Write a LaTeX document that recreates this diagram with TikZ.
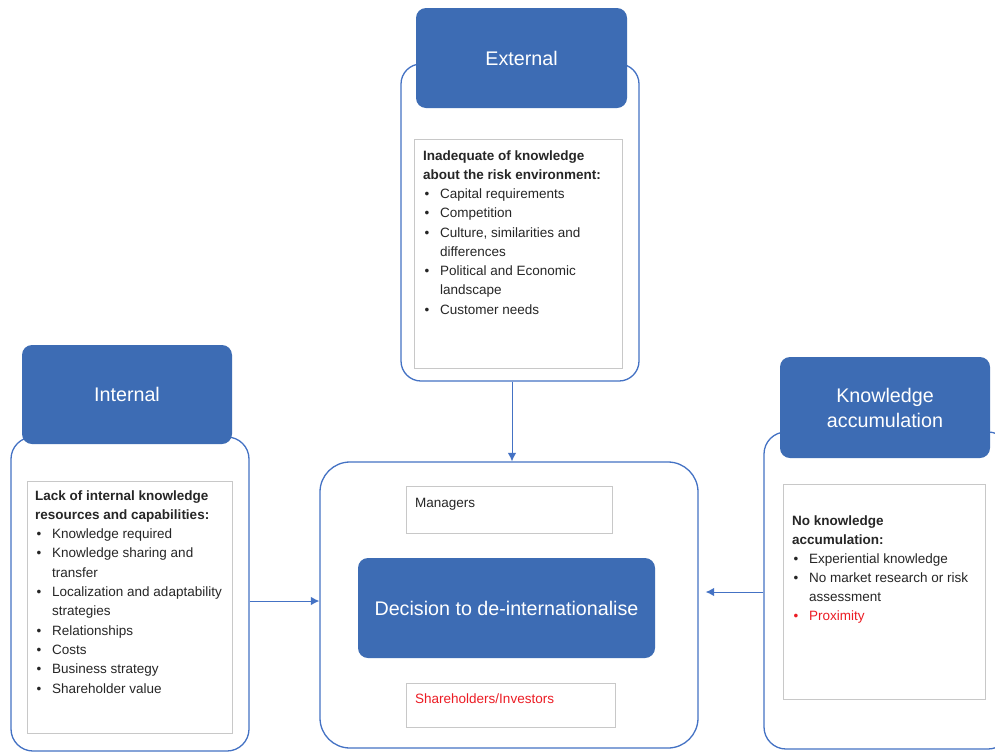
\documentclass[tikz,border=0pt]{standalone}
\usepackage{fontspec}
\setmainfont{Liberation Sans}
\usetikzlibrary{arrows.meta,calc}
\definecolor{hdrblue}{RGB}{61,108,180}
\definecolor{frameblue}{RGB}{68,114,196}
\definecolor{boxgray}{RGB}{200,200,200}
\definecolor{txt}{RGB}{38,38,38}
\definecolor{alert}{RGB}{236,28,36}
\newcommand\itm[1]{\hspace*{1.5pt}\makebox[15.5pt][l]{\textbullet}#1}
\newcommand\cont[1]{\hspace*{17pt}#1}
\newcommand\bodyfont{\fontsize{13.5}{19.25}\selectfont}
\begin{document}
\begin{tikzpicture}[x=1pt,y=-1pt,
  group/.style={draw=frameblue,line width=1.3pt,fill=white,rounded corners=#1,inner sep=0},
  header/.style={fill=hdrblue,rounded corners=10pt,text=white,align=center,
    font=\fontsize{19.7}{25}\selectfont,inner sep=0},
  listbox/.style={draw=boxgray,line width=1pt,fill=white,inner sep=0},
  listtext/.style={anchor=base west,inner sep=0,text=txt,font=\bodyfont},
  link/.style={draw=frameblue,line width=1pt,-{Latex[length=8.5pt,width=8.5pt]}}]
\useasboundingbox (0,0) rectangle (995,753);
\clip (0,0) rectangle (995,753);
\fill[white] (0,0) rectangle (995,753);

% outer frames
\node[group=20pt,minimum width=238pt,minimum height=317pt] (ext-outer) at (520,222.5) {};
\node[group=22pt,minimum width=238pt,minimum height=314pt] (int-outer) at (130,594) {};
\node[group=30pt,minimum width=378pt,minimum height=286pt] (dec-outer) at (509,605) {};
\node[group=22pt,minimum width=246pt,minimum height=317pt] (ka-outer) at (887,590.5) {};

% text panels
\node[listbox,minimum width=208pt,minimum height=229pt] (ext-inner) at (518,253.5) {};
\node[listbox,minimum width=205pt,minimum height=252pt] (int-inner) at (129.5,607) {};
\node[listbox,minimum width=202pt,minimum height=215pt] (ka-inner) at (884,591.5) {};
\node[listbox,minimum width=206pt,minimum height=47pt] (managers) at (509,509.5) {};
\node[listbox,minimum width=209pt,minimum height=44pt] (holders) at (510.5,705) {};

% headers
\node[header,minimum width=211pt,minimum height=100pt] (ext-title) at (521.5,58) {External};
\node[header,minimum width=210pt,minimum height=99pt] (int-title) at (127,394.5) {Internal};
\node[header,minimum width=210pt,minimum height=101pt] (ka-title) at (885,407.5) {Knowledge\\accumulation};
\node[header,minimum width=297pt,minimum height=100pt] (dec-title) at (506.5,608) {Decision to de-internationalise};

% list contents
\node[listtext] (ext-text) at (423,160) {\parbox[t]{200pt}{\bodyfont
  \textbf{Inadequate of knowledge}\\
  \textbf{about the risk environment:}\\
  \itm{Capital requirements}\\
  \itm{Competition}\\
  \itm{Culture, similarities and}\\
  \cont{differences}\\
  \itm{Political and Economic}\\
  \cont{landscape}\\
  \itm{Customer needs}}};
\node[listtext] (int-text) at (35,500) {\parbox[t]{200pt}{\fontsize{13.5}{19.3}\selectfont
  \textbf{Lack of internal knowledge}\\
  \textbf{resources and capabilities:}\\
  \itm{Knowledge required}\\
  \itm{Knowledge sharing and}\\
  \cont{transfer}\\
  \itm{Localization and adaptability}\\
  \cont{strategies}\\
  \itm{Relationships}\\
  \itm{Costs}\\
  \itm{Business strategy}\\
  \itm{Shareholder value}}};
\node[listtext] (ka-text) at (792,525) {\parbox[t]{190pt}{\fontsize{13.5}{19.1}\selectfont
  \textbf{No knowledge}\\
  \textbf{accumulation:}\\
  \itm{Experiential knowledge}\\
  \itm{No market research or risk}\\
  \cont{assessment}\\
  \textcolor{alert}{\itm{Proximity}}}};
\node[listtext] (managers-text) at (415,507) {Managers};
\node[listtext,text=alert] (holders-text) at (415,703) {Shareholders/Investors};

% connectors
\coordinate (vx) at (512,0);
\coordinate (ly) at (0,601);
\coordinate (ry) at (0,592);
\draw[link] (vx |- ext-outer.south) -- (vx |- dec-outer.north);
\draw[link] (int-outer.east |- ly) -- (dec-outer.west |- ly);
\draw[link,shorten >=7pt] (ka-outer.west |- ry) -- (dec-outer.east |- ry);
\end{tikzpicture}
\end{document}
